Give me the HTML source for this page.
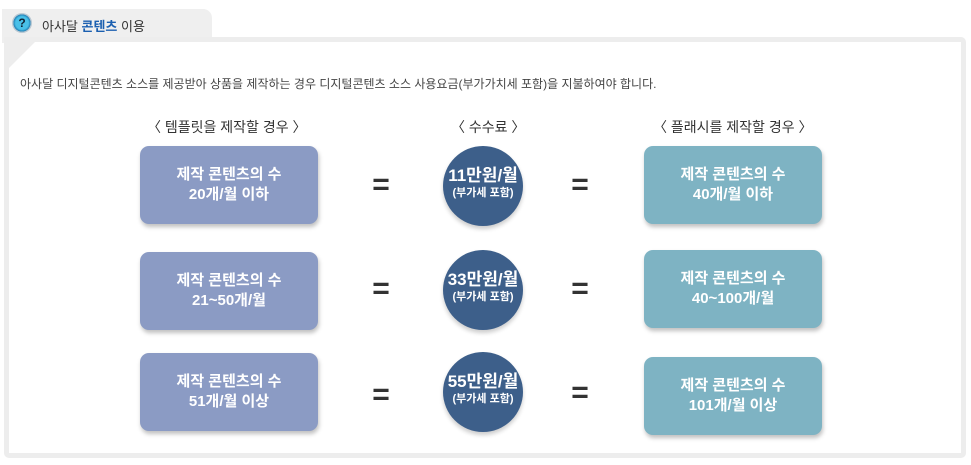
<!DOCTYPE html>
<html><head><meta charset="utf-8"><style>
body{margin:0;width:971px;height:465px;background:#fff;position:relative;overflow:hidden;font-family:"Liberation Sans","Noto Sans CJK KR",sans-serif}
.a{position:absolute}
.tab{left:2px;top:9px;width:210px;height:34px;background:#efefef;border-radius:0 9px 0 0}
.panel{left:4px;top:37px;width:952px;height:411px;border:5px solid #ededed;border-radius:5px;background:#fff}
.fold{left:4px;top:37px;width:0;height:0;border-top:36px solid #ededed;border-right:36px solid transparent}
.box{width:178px;height:78px;border-radius:9px;color:#fff;font-size:15px;font-weight:bold;text-align:center;line-height:20px;display:flex;align-items:center;justify-content:center;box-shadow:1px 3px 4px rgba(0,0,0,.25)}
.l{left:140px;background:#8b9bc4}.r{left:644px;background:#7eb3c3}
.c{width:80px;height:80px;border-radius:50%;background:#3d5f8a;color:#fff;text-align:center;left:443px;box-shadow:0 3px 4px rgba(0,0,0,.2)}
.c b{display:block;font-size:17px;margin-top:20px;line-height:20px}
.c span{display:block;font-size:11px;font-weight:bold;line-height:14px}
.eq{font-size:30px;font-weight:bold;color:#333;width:30px;text-align:center}
.h{font-size:14px;color:#333;top:117px}
</style></head><body>
<div class="a tab"></div>
<div class="a panel"></div>
<div class="a fold"></div>
<div class="a" style="left:12px;top:13px;width:20px;height:20px;border-radius:50%;background:radial-gradient(circle,#49c0e8 45%,#1f7fb5 60%,#b8c7d2 62%);color:#123;font-size:12px;font-weight:bold;text-align:center;line-height:20px">?</div>
<div class="a" style="left:42px;top:16px;font-size:13px;color:#333">아사달 <span style="color:#1b5fb0;font-weight:bold">콘텐츠</span> 이용</div>
<div class="a" style="left:20px;top:75px;font-size:12px;color:#444">아사달 디지털콘텐츠 소스를 제공받아 상품을 제작하는 경우 디지털콘텐츠 소스 사용요금(부가가치세 포함)을 지불하여야 합니다.</div>
<div class="a h" style="left:147px">〈 템플릿을 제작할 경우 〉</div>
<div class="a h" style="left:451px">〈 수수료 〉</div>
<div class="a h" style="left:653px">〈 플래시를 제작할 경우 〉</div>

<div class="a box l" style="top:146px">제작 콘텐츠의 수<br>20개/월 이하</div>
<div class="a box l" style="top:252px">제작 콘텐츠의 수<br>21~50개/월</div>
<div class="a box l" style="top:353px">제작 콘텐츠의 수<br>51개/월 이상</div>
<div class="a box r" style="top:146px">제작 콘텐츠의 수<br>40개/월 이하</div>
<div class="a box r" style="top:250px">제작 콘텐츠의 수<br>40~100개/월</div>
<div class="a box r" style="top:357px">제작 콘텐츠의 수<br>101개/월 이상</div>

<div class="a c" style="top:146px"><b>11만원/월</b><span>(부가세 포함)</span></div>
<div class="a c" style="top:250px"><b>33만원/월</b><span>(부가세 포함)</span></div>
<div class="a c" style="top:352px"><b>55만원/월</b><span>(부가세 포함)</span></div>

<div class="a eq" style="left:366px;top:168px">=</div>
<div class="a eq" style="left:565px;top:168px">=</div>
<div class="a eq" style="left:366px;top:272px">=</div>
<div class="a eq" style="left:565px;top:272px">=</div>
<div class="a eq" style="left:366px;top:378px">=</div>
<div class="a eq" style="left:565px;top:376px">=</div>
</body></html>
